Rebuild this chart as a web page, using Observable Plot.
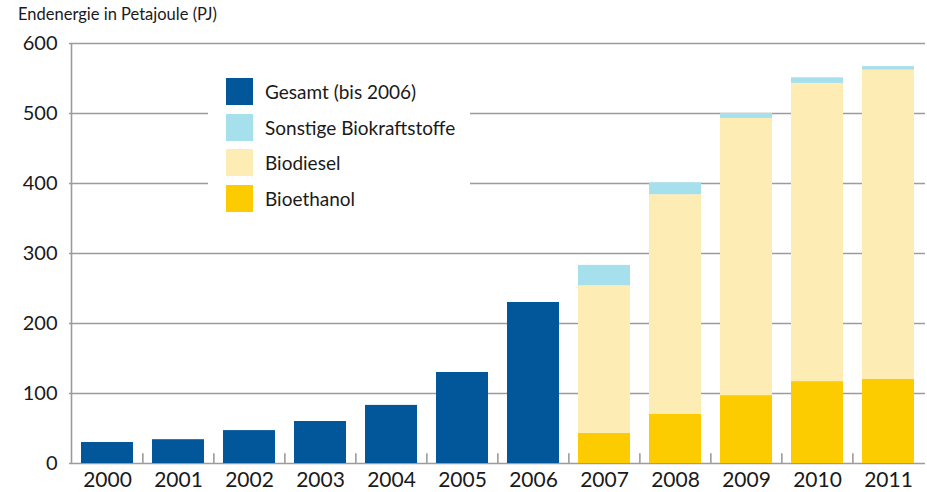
<!DOCTYPE html>
<html><head><meta charset="utf-8">
<script src="https://cdn.jsdelivr.net/npm/d3@7"></script>
<script src="https://cdn.jsdelivr.net/npm/@observablehq/plot@0.6"></script>
<style>
body{margin:0;background:#fff;font-family:Lato,"Open Sans",sans-serif;}
#wrap{position:relative;width:927px;height:492px;overflow:hidden;}
#title{position:absolute;left:18px;top:4px;font-size:16.5px;color:#1a1a1a;white-space:nowrap;}
#legend{position:absolute;left:208px;top:68px;width:262px;height:150px;background:#fff;}
.item{position:absolute;left:18px;height:27px;display:flex;align-items:center;font-size:19px;color:#1a1a1a;white-space:nowrap;}
.sw{width:27px;height:27px;margin-right:12px;flex:none;}
</style></head>
<body><div id="wrap"><div id="title">Endenergie in Petajoule (PJ)</div></div>
<script>
const years = [2000,2001,2002,2003,2004,2005,2006,2007,2008,2009,2010,2011];
const seriesNames = ["Gesamt (bis 2006)","Sonstige Biokraftstoffe","Biodiesel","Bioethanol"];
const seriesColors = ["#02579b","#a6e0ec","#feecb5","#fdcc00"];
const gesamt     = [30,34,47,60,83,130,230,null,null,null,null,null];
const bioethanol = [null,null,null,null,null,null,null,43,70,97,117,120];
const biodiesel  = [null,null,null,null,null,null,null,211,314,396,426,442];
const sonstige   = [null,null,null,null,null,null,null,29,17,7,8,5];
const yTicks = [0,100,200,300,400,500,600];

const rows = [];
years.forEach((y,i)=>{
  if (gesamt[i] != null) rows.push({year:y, series:seriesNames[0], value:gesamt[i]});
  if (bioethanol[i] != null) rows.push({year:y, series:seriesNames[3], value:bioethanol[i]});
  if (biodiesel[i] != null) rows.push({year:y, series:seriesNames[2], value:biodiesel[i]});
  if (sonstige[i] != null) rows.push({year:y, series:seriesNames[1], value:sonstige[i]});
});

const W = 927, H = 492, mL = 69, mR = 2, mT = 43, mB = 29;
const pI = 0.27, pO = 0.14;
const step = (W - mL - mR) / (years.length - pI + 2*pO);
const bw = step*(1-pI);
const gray = "#9c9c9c";

const chart = Plot.plot({
  width: W, height: H,
  marginLeft: mL, marginRight: mR, marginTop: mT, marginBottom: mB,
  style: {fontFamily: "Lato, 'Open Sans', sans-serif", fontSize: "20px", color: "#1a1a1a", background: "#fff"},
  x: {type: "band", domain: years, paddingInner: pI, paddingOuter: pO, label: null},
  y: {domain: [0,600], label: null},
  color: {domain: seriesNames, range: seriesColors},
  marks: [
    Plot.ruleY(yTicks, {stroke: gray, strokeWidth: 1.6}),
    Plot.ruleX([years[0]], {dx: -(bw/2 + pO*step), y1: 0, y2: 600, stroke: gray, strokeWidth: 1.6}),
    Plot.ruleX(years.slice(1), {dx: -step/2, y1: 0, y2: 14, stroke: gray, strokeWidth: 1.6}),
    Plot.barY(rows, {x: "year", y: "value", fill: "series", order: null}),
    Plot.axisY({ticks: yTicks, tickSize: 0, tickPadding: 12, fontSize: 20, label: null}),
    Plot.axisX({tickSize: 0, tickPadding: 9, fontSize: 21, label: null, tickFormat: d => String(d)})
  ]
});
const wrap = document.getElementById("wrap");
wrap.insertBefore(chart, wrap.firstChild);
chart.style.position = "absolute"; chart.style.left = "0"; chart.style.top = "0";

const legend = document.createElement("div");
legend.id = "legend";
seriesNames.forEach((name,i)=>{
  const it = document.createElement("div");
  it.className = "item";
  it.style.top = (10 + i*35.5) + "px";
  const sw = document.createElement("div");
  sw.className = "sw"; sw.style.background = seriesColors[i];
  const tx = document.createElement("span"); tx.textContent = name;
  it.appendChild(sw); it.appendChild(tx);
  legend.appendChild(it);
});
wrap.appendChild(legend);
</script>
</body></html>
